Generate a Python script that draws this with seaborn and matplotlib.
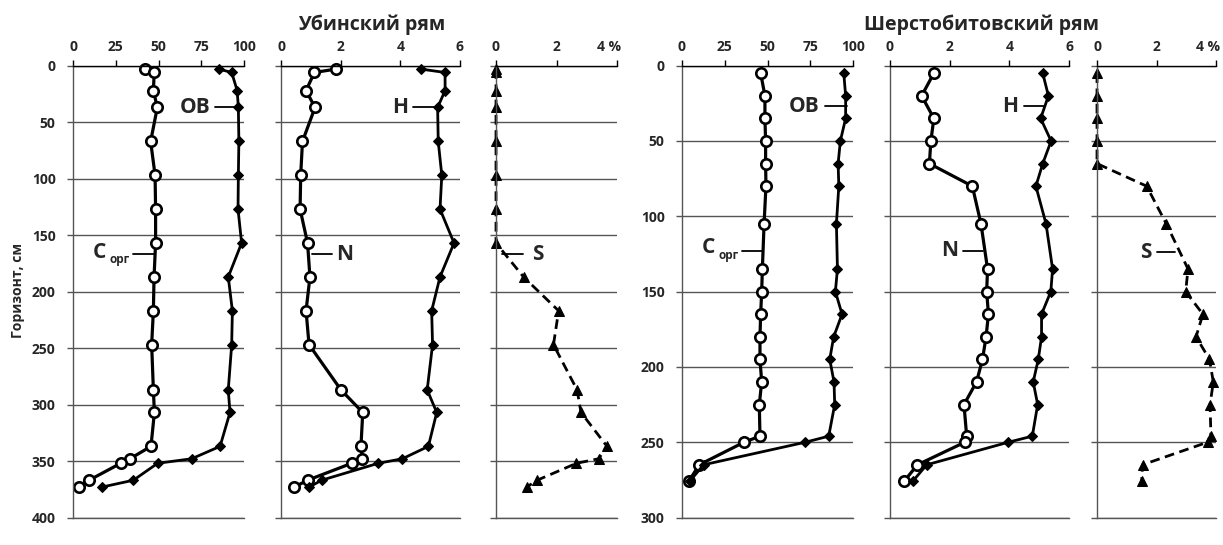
import numpy as np
import pandas as pd
import seaborn as sns
import matplotlib
matplotlib.use('Agg')
import matplotlib.pyplot as plt
import matplotlib.transforms as mtransforms

# Убинский рям
ub_depth = [3, 6, 22, 37, 67, 97, 127, 157, 187, 217, 247, 287, 307, 337, 348, 352, 367, 373]
ub_c = [42, 47.5, 47, 49.3, 45.4, 48, 48.3, 48.3, 47.4, 47, 46, 47, 47.6, 45.6, 33.3, 27.9, 9.4, 3.5]
ub_ov = [85.4, 92.8, 96, 96.7, 97, 96.7, 96.5, 98.6, 90.8, 93.2, 92.8, 90.8, 91.8, 86, 69.4, 49.5, 35.3, 17.1]
ub_n = [1.84, 1.12, 0.84, 1.14, 0.72, 0.66, 0.64, 0.89, 0.97, 0.84, 0.94, 2.01, 2.74, 2.68, 2.73, 2.37, 0.89, 0.45]
ub_h = [4.69, 5.5, 5.5, 5.25, 5.27, 5.39, 5.33, 5.8, 5.33, 5.05, 5.08, 4.9, 5.22, 4.94, 4.07, 3.26, 1.36, 0.95]
ub_s = [0, 0, 0, 0, 0, 0, 0, 0, 0.91, 2.07, 1.9, 2.68, 2.81, 3.67, 3.39, 2.66, 1.36, 1.02]

# Шерстобитовский рям
sh_depth = [5, 20, 35, 50, 65, 80, 105, 135, 150, 165, 180, 195, 210, 225, 246, 250, 265, 276]
sh_c = [46, 48.5, 48.5, 48.9, 48.9, 49.1, 48, 47, 46.6, 46, 45.6, 45.6, 46.6, 45.2, 45.6, 36.3, 10.1, 3.9]
sh_ov = [94.6, 95.7, 95.7, 92.6, 91.3, 91.7, 90.3, 90.9, 89.7, 93.6, 88.7, 86.4, 88.9, 89.3, 85.8, 72.2, 12.6, 4.5]
sh_n = [1.47, 1.06, 1.47, 1.37, 1.32, 2.76, 3.05, 3.27, 3.24, 3.3, 3.22, 3.1, 2.9, 2.48, 2.57, 2.51, 0.92, 0.47]
sh_h = [5.12, 5.31, 5.05, 5.4, 5.12, 4.89, 5.23, 5.45, 5.39, 5.08, 5.08, 4.97, 4.8, 4.95, 4.77, 3.97, 1.23, 0.76]
sh_s = [0, 0, 0, 0, 0, 1.67, 2.33, 3.06, 2.98, 3.56, 3.33, 3.78, 3.91, 3.8, 3.83, 3.72, 1.53, 1.5]

sns.set_theme(style='white')
plt.rcParams['font.family'] = ['Open Sans', 'DejaVu Sans']
plt.rcParams['font.weight'] = 'bold'

fig = plt.figure(figsize=(12.23, 5.45), dpi=100)
W, H = 1223, 545


def make_ax(x0, x1, y0, y1):
    return fig.add_axes([x0 / W, 1 - y1 / H, (x1 - x0) / W, (y1 - y0) / H])


def style_ax(ax, xmax, xticks, xlabels, ymax, show_y):
    ax.set_xlim(0, xmax)
    ax.set_ylim(ymax, 0)
    ax.xaxis.tick_top()
    ax.set_xticks(xticks)
    ax.set_xticklabels(xlabels, fontsize=10, fontweight='bold')
    ax.set_yticks(range(0, ymax + 1, 50))
    ax.grid(False)
    ax.grid(axis='y', color='#555555', lw=1)
    ax.set_xlabel('')
    ax.set_ylabel('')
    ax.spines['right'].set_visible(False)
    ax.spines['bottom'].set_color('#555555')
    ax.spines['left'].set_color('#555555')
    ax.spines['top'].set_color('black')
    for s in ax.spines.values():
        s.set_linewidth(1)
    ax.tick_params(axis='x', top=True, bottom=False, direction='out', length=4,
                   width=1, color='black', pad=4.5)
    ax.tick_params(axis='y', left=True, direction='out', length=4, width=1,
                   color='#555555', pad=8.5, labelleft=show_y, labelsize=10)
    for t in ax.get_yticklabels():
        t.set_fontweight('bold')
    ax.set_facecolor('none')


def circle_line(ax, x, y):
    sns.lineplot(x=x, y=y, sort=False, estimator=None, ax=ax, color='black', lw=2.3,
                 marker='o', markersize=7.5, mfc='white', mec='black', mew=1.9, clip_on=False)


def diamond_line(ax, x, y):
    sns.lineplot(x=x, y=y, sort=False, estimator=None, ax=ax, color='black', lw=2,
                 marker='D', markersize=5, mfc='black', mec='black', clip_on=False)


def triangle_line(ax, x, y):
    sns.lineplot(x=x, y=y, sort=False, estimator=None, ax=ax, color='black', lw=2,
                 linestyle=(0, (3.5, 2)), marker='^', markersize=7.5, mfc='black',
                 mec='black', clip_on=False)


def label(ax, txt, tx, ty, lx0, lx1, ly, ha='right'):
    ax.text(tx, ty, txt, fontsize=15, fontweight='bold', ha=ha, va='center')
    ax.plot([lx0, lx1], [ly, ly], color='black', lw=1.3)


def c_label(ax, tx, ty, lx0, lx1, ly, scale):
    ax.text(tx, ty, 'С', fontsize=15, fontweight='bold', ha='left', va='center')
    ax.text(tx + 10, ty + 7 * scale, 'орг', fontsize=8.5, fontweight='bold', ha='left', va='center')
    ax.plot([lx0, lx1], [ly, ly], color='black', lw=1.3)


def draw_group(xs, ymax, depth, c, ov, n, h, s):
    ax1 = make_ax(xs[0][0], xs[0][1], 65.7, 517.5)
    ax2 = make_ax(xs[1][0], xs[1][1], 65.7, 517.5)
    ax3 = make_ax(xs[2][0], xs[2][1], 65.7, 517.5)

    circle_line(ax1, c, depth)
    diamond_line(ax1, ov, depth)
    style_ax(ax1, 100, [0, 25, 50, 75, 100], ['0', '25', '50', '75', '100'], ymax, True)

    circle_line(ax2, n, depth)
    diamond_line(ax2, h, depth)
    style_ax(ax2, 6, [0, 2, 4, 6], ['0', '2', '4', '6'], ymax, False)

    triangle_line(ax3, s, depth)
    style_ax(ax3, 4, [0, 2, 4], ['0', '2', '4 %'], ymax, False)
    # last label sits to the left of its tick, like in the source chart
    last = ax3.get_xticklabels()[-1]
    last.set_horizontalalignment('right')
    last.set_transform(last.get_transform() + mtransforms.ScaledTranslation(4 / 100, 0, fig.dpi_scale_trans))
    return ax1, ax2, ax3


# left group
a1, a2, a3 = draw_group([(73, 244), (281, 460), (496, 617)], 400,
                        ub_depth, ub_c, ub_ov, ub_n, ub_h, ub_s)
label(a1, 'ОВ', 80.5, 37, 83, 96.5, 37)
c_label(a1, 11.5, 165, 35, 47.5, 167, 1)
label(a2, 'H', 4.25, 37, 4.43, 5.25, 37)
label(a2, 'N', 1.85, 167, 1.05, 1.7, 167, ha='left')
label(a3, 'S', 1.2, 167, 0.2, 0.9, 167, ha='left')

# right group
b1, b2, b3 = draw_group([(682, 853), (890, 1069), (1097, 1216)], 300,
                        sh_depth, sh_c, sh_ov, sh_n, sh_h, sh_s)
label(b1, 'ОВ', 80.5, 27, 83.5, 96.5, 27)
c_label(b1, 11.5, 121, 35, 47, 123, 0.75)
label(b2, 'H', 4.3, 27, 4.49, 5.2, 27)
label(b2, 'N', 2.3, 123, 2.45, 3.12, 123)
label(b3, 'S', 1.85, 124, 2.03, 2.63, 124)

fig.text(372 / W, 1 - 25 / H, 'Убинский рям', fontsize=14, fontweight='bold', ha='center', va='center')
fig.text(981 / W, 1 - 25 / H, 'Шерстобитовский рям', fontsize=14, fontweight='bold', ha='center', va='center')
fig.text(18 / W, 1 - 290 / H, 'Горизонт, см', fontsize=10, fontweight='bold', rotation=90,
         ha='center', va='center')

fig.savefig('out.png', dpi=100, facecolor='white')
